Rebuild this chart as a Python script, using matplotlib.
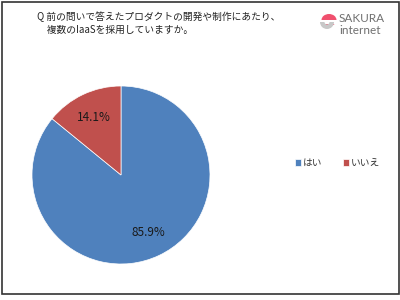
import matplotlib.pyplot as plt
from matplotlib.patches import Rectangle, Wedge, Ellipse

plt.rcParams['font.family'] = ['Noto Sans CJK JP', 'DejaVu Sans']

labels = ["はい", "いいえ"]
values = [85.9, 14.1]
colors = ["#4F81BD", "#C0504D"]
title_lines = ["Q 前の問いで答えたプロダクトの開発や制作にあたり、", "　複数のIaaSを採用していますか。"]

fig = plt.figure(figsize=(4, 3), dpi=100)

# outer frame
fig.patches.append(Rectangle((1.5/400, 1 - 294/300), 397/400, 292.5/300, transform=fig.transFigure,
                             fill=False, edgecolor="#333333", linewidth=1.2))

fig.text(37/400, 1 - 17/300, title_lines[0], fontsize=7, va="center", ha="left", color="#222222")
fig.text(37/400, 1 - 30/300, title_lines[1], fontsize=7, va="center", ha="left", color="#222222")

# pie
ax = fig.add_axes([32/400, 1 - 264/300, 178/400, 178/300])
wedges, texts, autotexts = ax.pie(values, colors=colors, startangle=90, counterclock=False,
                                  autopct='%1.1f%%', pctdistance=0.72,
                                  wedgeprops=dict(edgecolor="white", linewidth=0.5),
                                  textprops=dict(fontsize=8.5, color="#1a1a1a"))
ax.set_xlim(-1, 1)
ax.set_ylim(-1, 1)
ax.set_aspect('auto')

# legend
leg = fig.legend(wedges, labels, loc="center left", bbox_to_anchor=(0.715, 1 - 163/300), ncol=2,
                 frameon=False, fontsize=7, handlelength=0.6, handleheight=0.6, handletextpad=0.2,
                 columnspacing=2.2)
for t in leg.get_texts():
    t.set_color("#333333")

# logo
lax = fig.add_axes([318/400, 1 - 33/300, 20/400, 24/300])
lax.set_xlim(0, 20)
lax.set_ylim(0, 24)
lax.axis('off')
lax.add_patch(Ellipse((11, 13), 15, 12, facecolor="#F0506E", edgecolor="none"))
lax.add_patch(Rectangle((0, 9), 20, 4, facecolor="white", edgecolor="none"))
lax.add_patch(Wedge((9, 11), 7, 180, 360, width=4.5, facecolor="#C8C8C8", edgecolor="none"))
lax.add_patch(Rectangle((0, 11), 20, 2, facecolor="white", edgecolor="none"))
fig.text(339/400, 1 - 18/300, "SAKURA", fontsize=8.5, color="#707070", family="Lato", va="center")
fig.text(339/400, 1 - 30/300, "internet", fontsize=8.5, color="#707070", family="Lato", va="center")

fig.savefig("out.png", dpi=100)
